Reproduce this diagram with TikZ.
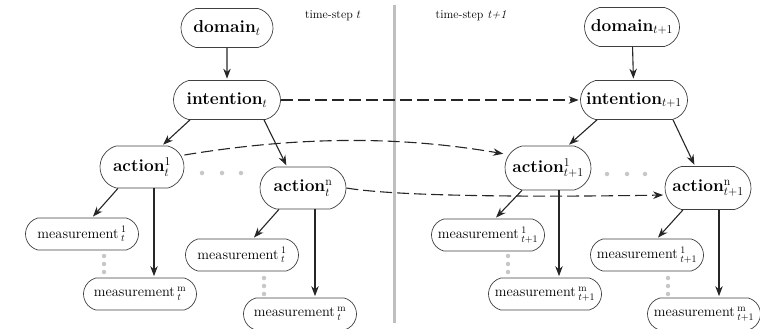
\documentclass[tikz,border=0pt]{standalone}
\usetikzlibrary{arrows.meta,shapes.misc}
\begin{document}
\begin{tikzpicture}[x=1pt,y=-1pt,
 box/.style={rounded rectangle, rounded rectangle arc length=150, draw=black!75, line width=0.7pt, inner xsep=2pt, inner ysep=2pt, fill=white},
 big/.style={box, font=\fontsize{17.28}{20}\selectfont\bfseries, minimum height=39pt},
 meas/.style={box, font=\fontsize{14.4}{17}\selectfont, minimum height=32pt, minimum width=117pt},
 arr/.style={-{Stealth[length=10pt,width=7.5pt]}, line width=1.1pt, draw=black!85, shorten >=1.5pt},
 darr/.style={arr, dash pattern=on 12pt off 5pt},
 dot/.style={circle, fill=black!22, inner sep=0pt, minimum size=4.5pt},
 lbl/.style={font=\fontsize{12}{14}\selectfont, inner sep=0pt}
]
\useasboundingbox (0,0) rectangle (760,329);
% separator
\draw[black!25, line width=3pt] (394,5) -- (394,323);
% labels
\node[lbl] (ts1) at (333,16) {time-step $t$};
\node[lbl] (ts2) at (471,16) {time-step \textit{t+1}};
% left nodes
\node[big, minimum width=96pt] (d1) at (227,28) {domain$_t$};
\node[big, minimum width=111pt] (i1) at (227,100) {intention$_t$};
\node[big, minimum width=88pt, minimum height=42pt] (a1) at (142,167) {action$^{1}_{t}$};
\node[big, minimum width=90pt, minimum height=42pt] (an) at (303,188) {action$^{\mathrm{n}}_{t}$};
\node[meas] (m11) at (82,234) {measurement\,$^{1}_{t}$};
\node[meas] (m1m) at (140,294) {measurement\,$^{\mathrm{m}}_{t}$};
\node[meas] (mn1) at (242,255) {measurement\,$^{1}_{t}$};
\node[meas] (mnm) at (300,314) {measurement\,$^{\mathrm{m}}_{t}$};
% right nodes
\node[big, minimum width=99pt] (d2) at (632,27) {domain$_{t+1}$};
\node[big, minimum width=111pt] (i2) at (634,100) {intention$_{t+1}$};
\node[big, minimum width=90pt, minimum height=44pt] (b1) at (548,168) {action$^{1}_{t+1}$};
\node[big, minimum width=90pt, minimum height=43pt] (bn) at (708,188) {action$^{\mathrm{n}}_{t+1}$};
\node[meas] (p11) at (488,235) {measurement\,$^{1}_{t+1}$};
\node[meas] (p1m) at (545,294) {measurement\,$^{\mathrm{m}}_{t+1}$};
\node[meas] (pn1) at (647,255) {measurement\,$^{1}_{t+1}$};
\node[meas] (pnm) at (704,314) {measurement\,$^{\mathrm{m}}_{t+1}$};
% dots
\node[dot] (q1) at (202,173) {};
\node[dot] (q2) at (222,173) {};
\node[dot] (q3) at (241,173) {};
\node[dot] (q4) at (607,174) {};
\node[dot] (q5) at (627,174) {};
\node[dot] (q6) at (645,174) {};
\node[dot] (v1) at (104,256) {};
\node[dot] (v2) at (104,264) {};
\node[dot] (v3) at (104,272) {};
\node[dot] (v4) at (264,278) {};
\node[dot] (v5) at (264,286) {};
\node[dot] (v6) at (264,294) {};
\node[dot] (v7) at (508,256) {};
\node[dot] (v8) at (508,264) {};
\node[dot] (v9) at (508,272) {};
\node[dot] (v10) at (668,278) {};
\node[dot] (v11) at (668,286) {};
\node[dot] (v12) at (668,294) {};
% solid arrows left
\draw[arr] (d1) -- (i1);
\draw[arr] ([xshift=-37pt]i1.south) -- ([xshift=20pt]a1.north);
\draw[arr] ([xshift=37pt]i1.south) -- ([xshift=-16pt]an.north);
\draw[arr] ([xshift=-24pt]a1.south) -- ([xshift=10pt]m11.north);
\draw[arr] ([xshift=12pt]a1.south) -- ([xshift=12pt]a1.south |- m1m.north);
\draw[arr] ([xshift=-24pt]an.south) -- ([xshift=11pt]mn1.north);
\draw[arr] ([xshift=12pt]an.south) -- ([xshift=12pt]an.south |- mnm.north);
% solid arrows right
\draw[arr] (d2) -- (i2);
\draw[arr] ([xshift=-37pt]i2.south) -- ([xshift=20pt]b1.north);
\draw[arr] ([xshift=39pt]i2.south) -- ([xshift=-13pt]bn.north);
\draw[arr] ([xshift=-26pt]b1.south) -- ([xshift=7pt]p11.north);
\draw[arr] ([xshift=11pt]b1.south) -- ([xshift=11pt]b1.south |- p1m.north);
\draw[arr] ([xshift=-25pt]bn.south) -- ([xshift=10pt]pn1.north);
\draw[arr] ([xshift=11pt]bn.south) -- ([xshift=11pt]bn.south |- pnm.north);
% dashed arrows
\draw[darr] (i1.east) -- (i2.west);
\draw[darr] ([yshift=12pt]a1.east) .. controls (300,136) and (400,136) .. ([yshift=14pt]b1.west);
\draw[darr] (an.east) .. controls (400,197) and (550,197) .. ([yshift=-7pt]bn.west);
\end{tikzpicture}
\end{document}
